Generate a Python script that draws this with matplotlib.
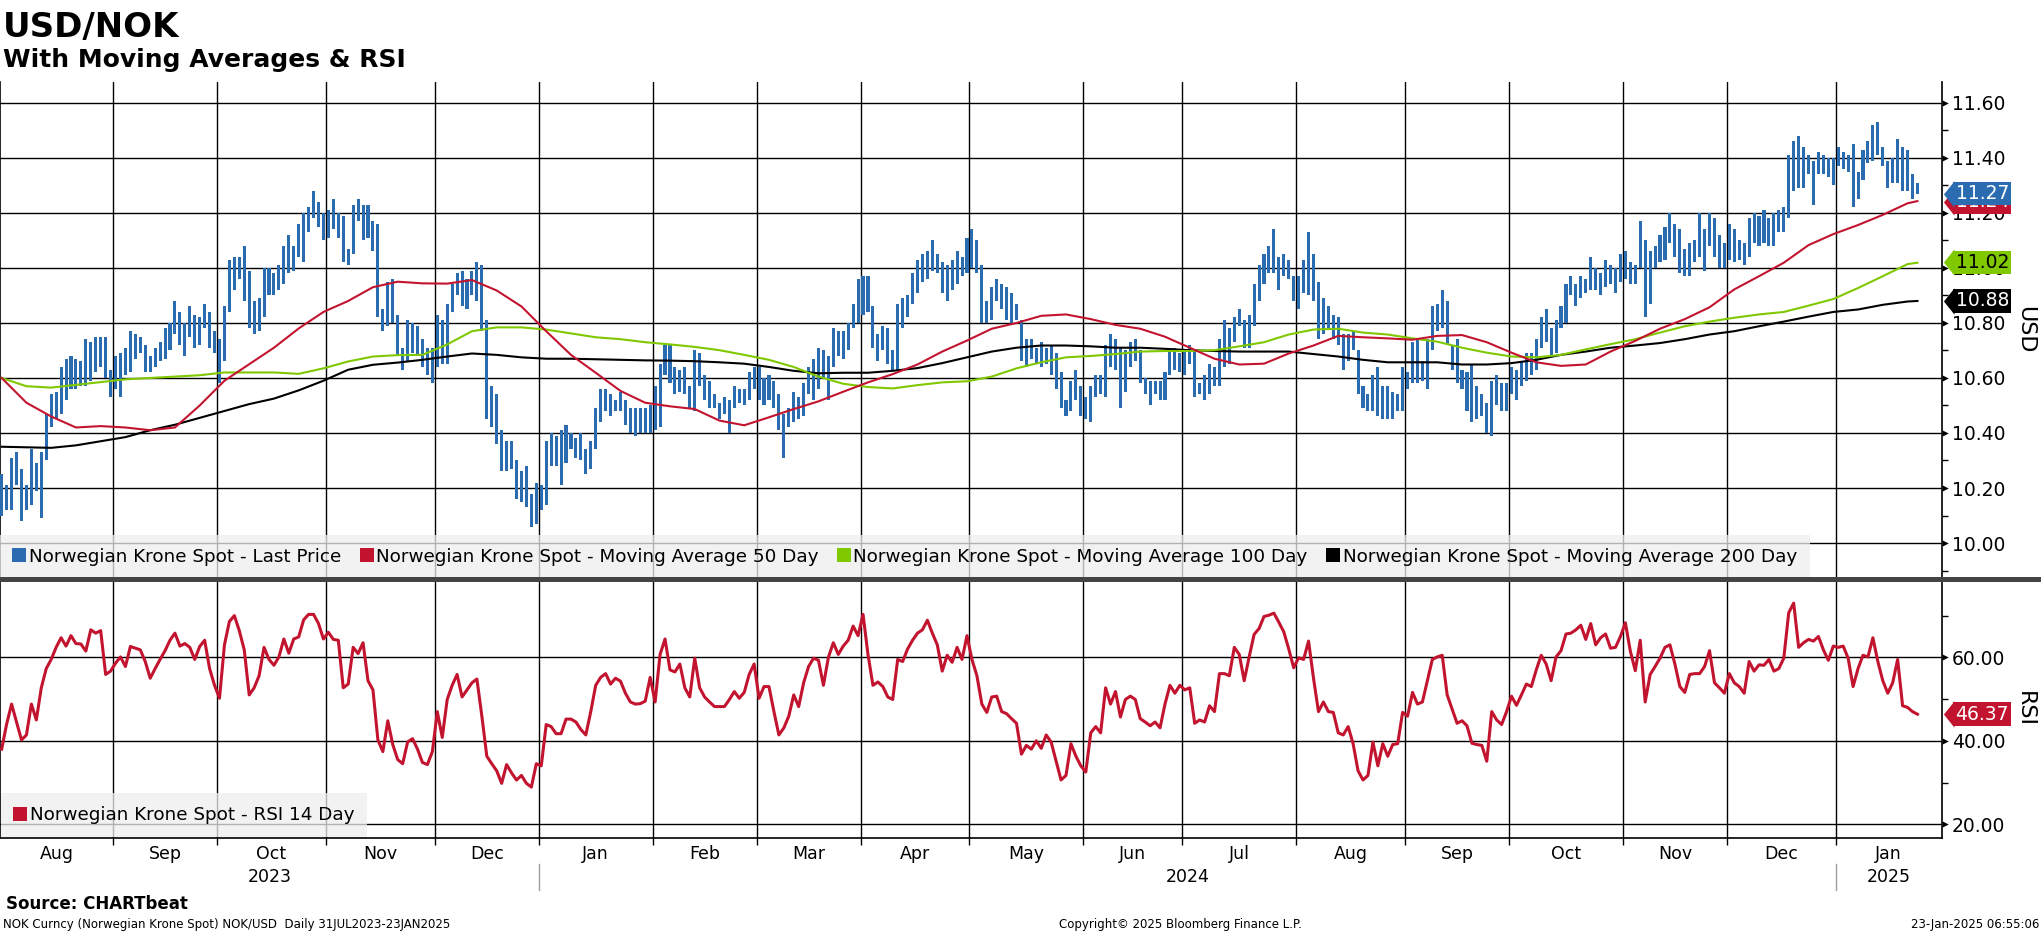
import matplotlib
matplotlib.use('Agg')
import matplotlib.pyplot as plt
import matplotlib.transforms as mtransforms
from matplotlib.lines import Line2D
from matplotlib.path import Path
from matplotlib.ticker import FixedLocator, FixedFormatter
import numpy as np
import pandas as pd

plt.rcParams['font.family'] = ['DejaVu Sans']

# trading days shown on the chart
dates = pd.bdate_range('2023-08-01', '2025-01-23')

# daily high / low of USD/NOK
high = [
    10.25, 10.21, 10.31, 10.33, 10.27, 10.21, 10.34, 10.29, 10.33, 10.47,
    10.54, 10.55, 10.64, 10.67, 10.68, 10.67, 10.66, 10.74, 10.73, 10.75,
    10.75, 10.75, 10.63, 10.68, 10.69, 10.71, 10.77, 10.76, 10.75, 10.72,
    10.68, 10.71, 10.73, 10.78, 10.80, 10.88, 10.84, 10.80, 10.86, 10.83,
    10.82, 10.87, 10.84, 10.77, 10.74, 10.86, 11.03, 11.04, 11.04, 11.08,
    10.99, 10.88, 10.89, 11.00, 11.00, 10.98, 11.01, 11.08, 11.12, 11.08,
    11.16, 11.20, 11.22, 11.28, 11.24, 11.20, 11.21, 11.25, 11.20, 11.19,
    11.07, 11.23, 11.25, 11.23, 11.23, 11.17, 11.16, 10.85, 10.95, 10.96,
    10.83, 10.71, 10.81, 10.80, 10.79, 10.74, 10.71, 10.71, 10.83, 10.81,
    10.87, 10.94, 10.98, 10.99, 10.96, 10.99, 11.02, 11.01, 10.81, 10.57,
    10.54, 10.41, 10.37, 10.37, 10.30, 10.26, 10.28, 10.18, 10.22, 10.21,
    10.37, 10.40, 10.39, 10.41, 10.43, 10.40, 10.38, 10.40, 10.34, 10.37,
    10.49, 10.56, 10.56, 10.54, 10.52, 10.55, 10.52, 10.49, 10.49, 10.49,
    10.49, 10.50, 10.57, 10.65, 10.72, 10.72, 10.64, 10.63, 10.64, 10.57,
    10.70, 10.69, 10.61, 10.59, 10.54, 10.51, 10.53, 10.52, 10.57, 10.56,
    10.56, 10.62, 10.64, 10.64, 10.60, 10.61, 10.59, 10.54, 10.47, 10.49,
    10.55, 10.53, 10.58, 10.64, 10.67, 10.71, 10.70, 10.68, 10.78, 10.77,
    10.77, 10.80, 10.87, 10.96, 10.97, 10.97, 10.86, 10.76, 10.79, 10.78,
    10.70, 10.87, 10.89, 10.90, 10.98, 11.03, 11.05, 11.06, 11.10, 11.05,
    11.02, 11.01, 11.03, 11.06, 11.04, 11.11, 11.14, 11.10, 11.01, 10.88,
    10.93, 10.96, 10.94, 10.93, 10.91, 10.87, 10.81, 10.74, 10.74, 10.71,
    10.73, 10.71, 10.72, 10.69, 10.62, 10.52, 10.59, 10.63, 10.57, 10.53,
    10.57, 10.61, 10.61, 10.72, 10.76, 10.74, 10.71, 10.70, 10.73, 10.74,
    10.70, 10.60, 10.59, 10.59, 10.59, 10.62, 10.71, 10.71, 10.69, 10.70,
    10.72, 10.70, 10.58, 10.61, 10.65, 10.64, 10.74, 10.81, 10.78, 10.82,
    10.85, 10.81, 10.83, 10.94, 11.01, 11.05, 11.08, 11.14, 11.04, 11.05,
    11.03, 10.97, 10.97, 11.03, 11.13, 11.05, 10.95, 10.89, 10.86, 10.83,
    10.82, 10.76, 10.76, 10.77, 10.70, 10.57, 10.54, 10.61, 10.64, 10.57,
    10.57, 10.55, 10.54, 10.64, 10.62, 10.73, 10.74, 10.66, 10.74, 10.86,
    10.87, 10.92, 10.88, 10.72, 10.74, 10.63, 10.62, 10.65, 10.57, 10.54,
    10.51, 10.59, 10.61, 10.58, 10.58, 10.64, 10.63, 10.66, 10.69, 10.69,
    10.74, 10.82, 10.85, 10.78, 10.81, 10.86, 10.94, 10.97, 10.94, 10.97,
    10.96, 11.04, 11.00, 10.98, 11.03, 11.01, 11.00, 11.05, 11.06, 11.02,
    11.01, 11.17, 11.10, 11.06, 11.08, 11.12, 11.15, 11.20, 11.16, 11.14,
    11.07, 11.09, 11.10, 11.20, 11.14, 11.20, 11.18, 11.12, 11.09, 11.16,
    11.14, 11.10, 11.09, 11.18, 11.20, 11.19, 11.21, 11.18, 11.20, 11.21,
    11.22, 11.41, 11.46, 11.48, 11.44, 11.41, 11.39, 11.42, 11.41, 11.40,
    11.40, 11.44, 11.42, 11.41, 11.45, 11.35, 11.43, 11.46, 11.52, 11.53,
    11.44, 11.39, 11.40, 11.47, 11.44, 11.43, 11.34, 11.31,
]
low = [
    10.10, 10.12, 10.12, 10.21, 10.08, 10.12, 10.14, 10.19, 10.09, 10.30,
    10.42, 10.45, 10.47, 10.52, 10.56, 10.56, 10.57, 10.57, 10.59, 10.62,
    10.64, 10.60, 10.53, 10.56, 10.53, 10.61, 10.62, 10.67, 10.69, 10.62,
    10.62, 10.64, 10.66, 10.67, 10.70, 10.76, 10.72, 10.68, 10.75, 10.71,
    10.72, 10.78, 10.71, 10.69, 10.58, 10.66, 10.84, 10.92, 10.96, 10.88,
    10.78, 10.76, 10.77, 10.82, 10.90, 10.90, 10.92, 10.94, 10.98, 10.99,
    11.04, 11.02, 11.13, 11.18, 11.15, 11.10, 11.11, 11.14, 11.11, 11.02,
    11.01, 11.05, 11.17, 11.10, 11.11, 11.06, 10.82, 10.77, 10.79, 10.80,
    10.68, 10.63, 10.66, 10.69, 10.68, 10.64, 10.61, 10.58, 10.64, 10.65,
    10.65, 10.84, 10.90, 10.86, 10.85, 10.90, 10.88, 10.77, 10.45, 10.42,
    10.36, 10.26, 10.26, 10.27, 10.16, 10.15, 10.13, 10.06, 10.07, 10.12,
    10.14, 10.28, 10.28, 10.21, 10.29, 10.34, 10.31, 10.30, 10.25, 10.27,
    10.34, 10.44, 10.48, 10.46, 10.48, 10.48, 10.43, 10.40, 10.39, 10.40,
    10.40, 10.40, 10.41, 10.42, 10.61, 10.58, 10.54, 10.55, 10.54, 10.49,
    10.48, 10.57, 10.52, 10.49, 10.49, 10.45, 10.47, 10.40, 10.49, 10.51,
    10.50, 10.52, 10.56, 10.52, 10.50, 10.52, 10.49, 10.41, 10.31, 10.42,
    10.44, 10.45, 10.46, 10.54, 10.52, 10.56, 10.60, 10.52, 10.64, 10.68,
    10.67, 10.70, 10.78, 10.80, 10.83, 10.84, 10.71, 10.66, 10.70, 10.65,
    10.63, 10.63, 10.78, 10.82, 10.87, 10.91, 10.95, 10.96, 10.99, 10.98,
    10.91, 10.88, 10.92, 10.94, 10.97, 10.98, 11.00, 10.98, 10.80, 10.80,
    10.81, 10.88, 10.85, 10.81, 10.80, 10.81, 10.66, 10.64, 10.67, 10.65,
    10.64, 10.65, 10.61, 10.56, 10.49, 10.46, 10.48, 10.52, 10.46, 10.45,
    10.44, 10.53, 10.54, 10.53, 10.64, 10.63, 10.49, 10.55, 10.64, 10.66,
    10.58, 10.54, 10.50, 10.54, 10.52, 10.52, 10.61, 10.63, 10.62, 10.61,
    10.65, 10.53, 10.54, 10.52, 10.54, 10.57, 10.57, 10.64, 10.65, 10.73,
    10.79, 10.71, 10.71, 10.79, 10.88, 10.94, 10.98, 10.98, 10.92, 10.97,
    10.96, 10.88, 10.85, 10.91, 10.90, 10.88, 10.74, 10.76, 10.78, 10.74,
    10.72, 10.63, 10.66, 10.70, 10.54, 10.49, 10.48, 10.48, 10.46, 10.45,
    10.45, 10.45, 10.48, 10.48, 10.56, 10.58, 10.58, 10.59, 10.56, 10.70,
    10.77, 10.78, 10.72, 10.63, 10.58, 10.56, 10.48, 10.44, 10.45, 10.46,
    10.40, 10.39, 10.50, 10.48, 10.48, 10.54, 10.52, 10.57, 10.59, 10.61,
    10.63, 10.71, 10.73, 10.68, 10.69, 10.78, 10.80, 10.90, 10.86, 10.89,
    10.91, 10.92, 10.92, 10.90, 10.93, 10.94, 10.91, 10.95, 10.96, 10.94,
    10.94, 11.00, 10.82, 10.87, 11.00, 11.02, 11.03, 11.09, 11.04, 10.98,
    10.97, 10.97, 11.02, 11.04, 10.99, 11.08, 11.04, 11.00, 11.00, 11.03,
    11.02, 11.03, 11.01, 11.04, 11.09, 11.08, 11.09, 11.08, 11.08, 11.13,
    11.13, 11.18, 11.28, 11.29, 11.29, 11.34, 11.23, 11.34, 11.34, 11.33,
    11.30, 11.37, 11.36, 11.35, 11.22, 11.25, 11.32, 11.38, 11.39, 11.41,
    11.37, 11.29, 11.31, 11.31, 11.28, 11.28, 11.25, 11.27,
]

# 14 day RSI, one value per trading day
rsi = [
    38, 44, 48.8, 44.5, 40.2, 41.4, 48.8, 45, 52.7, 57.3,
    59.5, 62.4, 64.7, 62.7, 65.2, 63.3, 63.2, 61.5, 66.6, 65.8,
    66.4, 55.9, 56.7, 58.6, 60.1, 57.8, 62.6, 62.2, 61.8, 59,
    55, 57.3, 59.5, 61.6, 64.1, 65.8, 62.7, 63.3, 62.4, 59.5,
    62.6, 64.1, 57.3, 53.3, 50.2, 63, 68.6, 70, 66.4, 61.8,
    51, 52.7, 55.6, 62.4, 59.5, 58.1, 60.1, 64.4, 61, 64.4,
    64.9, 69, 70.3, 70.3, 68.1, 64.4, 66, 64.3, 64.1, 52.7,
    53.6, 62.4, 60.9, 63.5, 54.4, 52.2, 40.2, 37.4, 44.8, 39.1,
    35.5, 34.5, 39.7, 40.5, 38, 34.8, 34.3, 37.4, 47, 40.8,
    49.9, 53.3, 55.9, 50.5, 52.2, 53.9, 54.8, 45.9, 36.3, 34.5,
    32.8, 29.8, 34.3, 32.3, 30.6, 31.7, 29.8, 28.9, 34.5, 34,
    43.9, 43.4, 41.7, 41.7, 45.2, 45.2, 44.5, 42.7, 41.4, 47,
    53.3, 55.2, 56.1, 53.6, 55, 54.3, 51.4, 49.3, 48.8, 48.9,
    49.5, 55.2, 49.3, 60.7, 64.4, 57, 56.5, 58.4, 52.7, 50.5,
    59.8, 52.7, 50.5, 49.3, 48.2, 48.2, 48.2, 49.9, 51.8, 50.2,
    51.6, 55.9, 58.4, 50.2, 53, 53, 47, 41.4, 43.1, 45.9,
    51, 48.2, 53.9, 57.8, 59.8, 59.3, 53.3, 60, 63.5, 60.7,
    62.7, 64.1, 67.5, 65.2, 70.3, 60.7, 53.3, 54.1, 53, 50.5,
    49.9, 59.5, 59, 62, 64.1, 65.8, 66.6, 68.9, 65.8, 63,
    56.7, 60.5, 58.8, 62.4, 59.5, 65.2, 59.5, 55.6, 48.8, 46.8,
    50.5, 50.7, 47, 46.5, 45.3, 44.2, 36.8, 38.9, 38, 40,
    38.2, 41.4, 39.7, 35.1, 30.6, 31.7, 39.3, 36.3, 34, 32.5,
    41.9, 43.4, 41.9, 52.7, 48.8, 51.8, 45.7, 49.9, 50.7, 49.9,
    45.3, 44.5, 43.6, 44.5, 43.1, 48.8, 53.3, 51.4, 53.3, 52.2,
    52.7, 44.2, 45, 44.5, 48.4, 47, 56.1, 56.1, 55.6, 62.4,
    60.7, 54.4, 60.1, 65.5, 66.9, 69.8, 70.1, 70.6, 68.4, 66.1,
    62, 57.5, 59.9, 59.5, 63.9, 55, 47, 49.3, 47, 46.8,
    41.9, 41.4, 43.4, 39.3, 32.8, 30.6, 31.7, 39.7, 34, 39.3,
    36.3, 39.1, 39.3, 46.8, 45.9, 51.6, 48.8, 49.3, 54.4, 59.5,
    60.1, 60.5, 51, 47.6, 44.2, 44.8, 43.6, 39.4, 39.1, 38.9,
    35.1, 47, 45, 43.9, 47, 50.7, 48.5, 51, 53.6, 53,
    57, 60.5, 58.4, 54.4, 60.1, 61.6, 65.6, 65.8, 66.6, 67.7,
    64.3, 68.1, 63, 64.7, 65.6, 62.2, 62.4, 65, 68.3, 61.5,
    56.8, 64.1, 49.3, 55.9, 57.8, 59.8, 62.4, 63, 58.4, 53,
    51.6, 55.9, 56.1, 56.1, 57.8, 61.6, 53.9, 52.7, 51.4, 56.1,
    53.9, 53, 51.4, 59, 56.7, 58.2, 58.1, 59.5, 56.7, 57.3,
    59.8, 70.7, 73, 62.4, 63.5, 64.3, 63.9, 65, 61.8, 59.3,
    62.7, 62.4, 62.7, 59.8, 53, 57.3, 60.5, 60.1, 64.7, 59,
    54.4, 51.4, 53.9, 59.5, 48.4, 48, 47, 46.37,
]

# moving averages, read every 5th trading day
ma_days = list(range(0, 386, 5)) + [387]
ma50 = [
    10.60, 10.51, 10.46, 10.42, 10.425, 10.42, 10.41, 10.42, 10.50, 10.59,
    10.65, 10.71, 10.78, 10.84, 10.88, 10.93, 10.95, 10.944, 10.943, 10.956,
    10.918, 10.86, 10.77, 10.684, 10.619, 10.553, 10.51, 10.497, 10.487, 10.445,
    10.428, 10.457, 10.487, 10.515, 10.55, 10.584, 10.614, 10.649, 10.696, 10.736,
    10.779, 10.80, 10.826, 10.831, 10.814, 10.793, 10.779, 10.75, 10.71, 10.67,
    10.649, 10.652, 10.689, 10.718, 10.753, 10.748, 10.744, 10.739, 10.753, 10.756,
    10.73, 10.692, 10.657, 10.644, 10.649, 10.696, 10.735, 10.779, 10.814, 10.857,
    10.922, 10.97, 11.019, 11.083, 11.123, 11.156, 11.193, 11.235,
    11.243,
]
ma100 = [
    10.60, 10.57, 10.565, 10.575, 10.585, 10.595, 10.60, 10.605, 10.61, 10.62,
    10.62, 10.62, 10.615, 10.635, 10.66, 10.678, 10.683, 10.684, 10.722, 10.77,
    10.784, 10.784, 10.776, 10.762, 10.748, 10.741, 10.73, 10.722, 10.713, 10.701,
    10.684, 10.666, 10.64, 10.605, 10.579, 10.567, 10.562, 10.574, 10.584, 10.588,
    10.605, 10.635, 10.657, 10.675, 10.68, 10.687, 10.696, 10.698, 10.698, 10.701,
    10.715, 10.73, 10.758, 10.776, 10.779, 10.765, 10.758, 10.744, 10.732, 10.71,
    10.692, 10.678, 10.675, 10.684, 10.704, 10.723, 10.741, 10.765, 10.788, 10.805,
    10.819, 10.831, 10.84, 10.863, 10.887, 10.927, 10.97, 11.014,
    11.019,
]
ma200 = [
    10.35, 10.348, 10.346, 10.355, 10.37, 10.385, 10.41, 10.43, 10.455, 10.48,
    10.505, 10.525, 10.555, 10.59, 10.63, 10.648, 10.656, 10.666, 10.678, 10.689,
    10.684, 10.675, 10.67, 10.67, 10.668, 10.666, 10.664, 10.663, 10.661, 10.657,
    10.652, 10.64, 10.626, 10.617, 10.619, 10.619, 10.626, 10.636, 10.654, 10.675,
    10.696, 10.71, 10.718, 10.718, 10.715, 10.71, 10.71, 10.706, 10.701, 10.698,
    10.696, 10.696, 10.696, 10.687, 10.678, 10.666, 10.657, 10.657, 10.657, 10.649,
    10.649, 10.654, 10.666, 10.684, 10.696, 10.71, 10.718, 10.727, 10.741, 10.758,
    10.77, 10.788, 10.805, 10.823, 10.84, 10.849, 10.866, 10.878,
    10.88,
]

# last values shown in the tags on the right
last_price = 11.27
last_ma50 = 11.24
last_ma100 = 11.02
last_ma200 = 10.88
last_rsi = 46.37

price_ticks = [10.0, 10.2, 10.4, 10.6, 10.8, 11.0, 11.2, 11.4, 11.6]
price_minor = [9.9, 10.1, 10.3, 10.5, 10.7, 10.9, 11.1, 11.3, 11.5]
rsi_ticks = [20, 40, 60]
rsi_minor = [30, 50, 70]

BLUE = '#2b6cb0'
RED = '#c3142f'
GREEN = '#80c800'
BLACK = '#000000'

W, H = 2041, 932
fig = plt.figure(figsize=(W / 100, H / 100), dpi=100)


def fx(px):
    return px / W


def fy(py):
    return 1 - py / H


plot_right = 1941.7
sep_y = 578.5
ax1 = fig.add_axes([0, fy(sep_y), fx(plot_right), fy(82) - fy(sep_y)])
ax2 = fig.add_axes([0, fy(838), fx(plot_right), fy(sep_y) - fy(838)])

x = np.arange(len(dates))
xlim = (-0.34, 391.9)

# month boundaries (gridlines) and month label centres
months = dates.to_period('M')
starts = [i for i in range(1, len(dates)) if months[i] != months[i - 1]]
bounds = [s - 0.5 for s in starts]
edges = [xlim[0]] + bounds + [xlim[1]]
centers = [(edges[k] + edges[k + 1]) / 2 for k in range(len(edges) - 1)]
mnames = [dates[0].strftime('%b')] + [dates[s].strftime('%b') for s in starts]

# price panel
hi = np.array(high)
lo = np.array(low)
ax1.bar(x, hi - lo, bottom=lo, width=0.62, color=BLUE, linewidth=0, zorder=3)
ax1.plot(ma_days, ma200, color=BLACK, lw=1.5, zorder=4)
ax1.plot(ma_days, ma100, color=GREEN, lw=1.5, zorder=4)
ax1.plot(ma_days, ma50, color=RED, lw=1.5, zorder=4)
ax1.set_ylim(9.871, 11.676)

# rsi panel
ax2.plot(x, rsi, color=RED, lw=2.2, zorder=3, solid_joinstyle='round')
ax2.set_ylim(16.7, 78.9)

caret = Path([(0, 0.5), (1, 0), (0, -0.5), (0, 0.5)],
             [Path.MOVETO, Path.LINETO, Path.LINETO, Path.CLOSEPOLY])

for ax, maj, mnr in ((ax1, price_ticks, price_minor), (ax2, rsi_ticks, rsi_minor)):
    ax.set_xlim(xlim)
    ax.xaxis.set_major_locator(FixedLocator(bounds))
    ax.yaxis.set_major_locator(FixedLocator(maj))
    ax.yaxis.set_minor_locator(FixedLocator(mnr))
    ax.yaxis.set_major_formatter(FixedFormatter(['%.2f' % v for v in maj]))
    ax.yaxis.tick_right()
    ax.grid(True, which='major', color='black', lw=1.0)
    ax.set_axisbelow(True)
    ax.spines['top'].set_visible(False)
    for s in ('left', 'right', 'bottom'):
        ax.spines[s].set_linewidth(1.2)
    ax.tick_params(axis='y', which='major', length=0, pad=7.5, labelsize=13.5)
    ax.tick_params(axis='y', which='minor', length=4, width=1, direction='out')
    # little arrow heads at the major ticks
    tr = mtransforms.blended_transform_factory(ax.transAxes, ax.transData)
    ax.plot(np.ones(len(maj)), maj, ls='none', marker=caret, ms=9, mew=0,
            color='black', transform=tr, clip_on=False, zorder=5)

ax1.spines['bottom'].set_visible(False)
ax1.tick_params(axis='x', which='both', length=0, labelbottom=False)

ax2.xaxis.set_minor_locator(FixedLocator(centers))
ax2.xaxis.set_minor_formatter(FixedFormatter(mnames))
ax2.tick_params(axis='x', which='major', length=5, width=1, direction='out', labelbottom=False)
ax2.tick_params(axis='x', which='minor', length=0, pad=5, labelsize=12.5)

# years under the months
trx = mtransforms.blended_transform_factory(ax2.transData, ax2.transAxes)
years = sorted(set(d.year for d in dates))
for yr in years:
    idx = [i for i in range(len(dates)) if dates[i].year == yr]
    left = max(idx[0] - 0.5, xlim[0])
    right = min(idx[-1] + 0.5, xlim[1]) if yr != years[-1] else xlim[1]
    ax2.text((left + right) / 2, -0.15, str(yr), transform=trx, ha='center', va='center',
             fontsize=12.5)
    if yr != years[0]:
        ax2.plot([idx[0] - 0.5] * 2, [-0.1, -0.2], transform=trx, color='#a0a0a0', lw=1,
                 clip_on=False)

# separator between the panels
fig.add_artist(Line2D([0, 1], [fy(sep_y), fy(sep_y)], color='#444444', lw=3.6))

# legends
names = ['Norwegian Krone Spot - Last Price',
         'Norwegian Krone Spot - Moving Average 50 Day',
         'Norwegian Krone Spot - Moving Average 100 Day',
         'Norwegian Krone Spot - Moving Average 200 Day']
handles = [Line2D([], [], ls='none', marker='s', ms=9.5, mew=0, color=c)
           for c in (BLUE, RED, GREEN, BLACK)]
ax1.legend(handles, names, loc='lower left', ncol=4, fontsize=13.2, frameon=True,
           fancybox=False, facecolor='#eeeeee', edgecolor='none', framealpha=0.75,
           borderaxespad=0, borderpad=0.7, handlelength=0.7, handletextpad=0.16,
           columnspacing=1.05)
ax2.legend([Line2D([], [], ls='none', marker='s', ms=9.5, mew=0, color=RED)],
           ['Norwegian Krone Spot - RSI 14 Day'], loc='lower left', fontsize=13.2,
           frameon=True, fancybox=False, facecolor='#eeeeee', edgecolor='none',
           framealpha=0.75, borderaxespad=0.05, borderpad=0.7, handlelength=0.7,
           handletextpad=0.16)

# value tags on the right
tip = Path([(0, 0.5), (-0.4, 0), (0, -0.5), (0, 0.5)],
           [Path.MOVETO, Path.LINETO, Path.LINETO, Path.CLOSEPOLY])


def value_tag(ax, val, face, tcol, z):
    tr = mtransforms.blended_transform_factory(ax.transAxes, ax.transData)
    ax.plot([1954 / plot_right], [val], marker=tip, ms=19, mew=0, color=face,
            transform=tr, clip_on=False, zorder=z)
    ax.text(1955.5 / plot_right, val, '%.2f' % val, transform=tr, ha='left', va='center',
            fontsize=13.5, color=tcol, zorder=z, clip_on=False,
            bbox=dict(boxstyle='square,pad=0.12', fc=face, ec='none'))


value_tag(ax1, last_ma50, RED, 'white', 10)
value_tag(ax1, last_price, BLUE, 'white', 11)
value_tag(ax1, last_ma100, GREEN, 'black', 10)
value_tag(ax1, last_ma200, BLACK, 'white', 10)
value_tag(ax2, last_rsi, RED, 'white', 10)

fig.text(fx(2025), fy(330), 'USD', rotation=270, ha='center', va='center', fontsize=16)
fig.text(fx(2025), fy(709), 'RSI', rotation=270, ha='center', va='center', fontsize=16)

# titles and footer
fig.text(fx(3), fy(37), 'USD/NOK', fontsize=24.5, fontweight='bold', va='baseline')
fig.text(fx(3), fy(67), 'With Moving Averages & RSI', fontsize=18, fontweight='bold',
         va='baseline')
fig.text(fx(6), fy(909), 'Source: CHARTbeat', fontsize=12, fontweight='bold', va='baseline')
fig.text(fx(3), fy(928), 'NOK Curncy (Norwegian Krone Spot) NOK/USD  Daily 31JUL2023-23JAN2025',
         fontsize=8.5, va='baseline')
fig.text(fx(1180), fy(928), 'Copyright\u00a9 2025 Bloomberg Finance L.P.', fontsize=8.5,
         ha='center', va='baseline')
fig.text(fx(2039), fy(928), '23-Jan-2025 06:55:06', fontsize=8.5, ha='right', va='baseline')

fig.savefig('out.png', dpi=100, facecolor='white')
